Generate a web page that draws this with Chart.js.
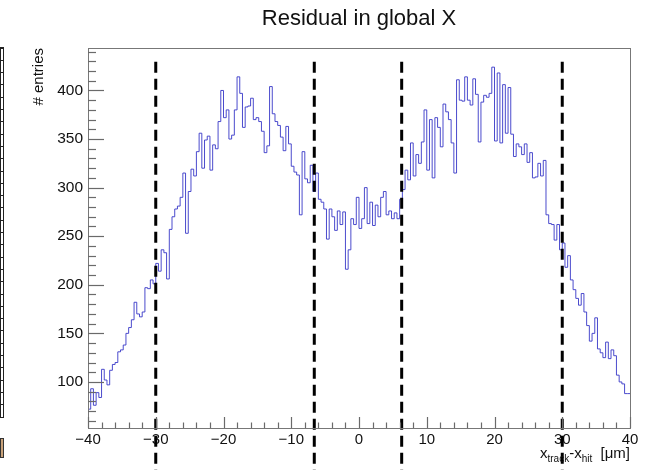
<!DOCTYPE html>
<html>
<head>
<meta charset="utf-8">
<title>Residual in global X</title>
<style>
  html, body { margin: 0; padding: 0; background: #fff; overflow: hidden; }
  canvas { display: block; }
</style>
<script src="https://cdn.jsdelivr.net/npm/chart.js@4.4.1/dist/chart.umd.min.js"></script>
</head>
<body>
<canvas id="c" width="654" height="470"></canvas>
<script>
// Histogram binning: 200 bins of 0.4 um between -40 and 40 um
const binLow = -40;
const binHigh = 40;
const binWidth = 0.4;

// Bin contents (# entries per bin), left to right
const entries = [
  86, 72, 93, 76, 89, 84, 113, 102, 97, 112,
  118, 120, 131, 133, 138, 150, 156, 164, 182, 170,
  167, 172, 197, 196, 205, 201, 222, 214, 236, 233,
  206, 257, 270, 278, 281, 290, 315, 253, 296, 319,
  312, 337, 356, 320, 349, 353, 318, 344, 340, 368,
  400, 372, 380, 350, 354, 380, 414, 397, 362, 383,
  384, 392, 370, 372, 368, 358, 336, 343, 404, 376,
  368, 364, 352, 338, 363, 345, 322, 316, 313, 272,
  337, 309, 305, 323, 296, 315, 288, 285, 278, 247,
  278, 270, 256, 276, 262, 275, 216, 236, 268, 262,
  290, 258, 268, 300, 263, 285, 261, 282, 270, 290,
  296, 272, 276, 268, 274, 268, 288, 298, 318, 308,
  346, 312, 334, 325, 347, 380, 318, 370, 310, 372,
  362, 342, 386, 378, 370, 346, 315, 411, 390, 389,
  414, 390, 385, 412, 396, 347, 388, 395, 393, 397,
  424, 348, 418, 346, 406, 356, 403, 355, 332, 345,
  342, 334, 345, 326, 336, 310, 311, 325, 312, 328,
  272, 263, 262, 246, 262, 236, 243, 218, 230, 205,
  195, 186, 179, 191, 172, 158, 142, 150, 166, 134,
  130, 125, 141, 124, 133, 127, 107, 100, 98, 88
];

// Vertical cut lines (um) and their vertical extent (entries)
const cutPositions = [-30, -6.6, 6.3, 30];
const cutBottom = 0;
const cutTop = 429.6;

// Axis ranges and labelled ticks
const yMin = 52.6;
const yMax = 443.7;
const xTickValues = [-40, -30, -20, -10, 0, 10, 20, 30, 40];
const yTickValues = [100, 150, 200, 250, 300, 350, 400];
const xMinorStep = 2;
const yMinorStep = 10;

const titleText = 'Residual in global X';
const yTitleText = '# entries';

const FONT = "'Liberation Sans', Arial, Helvetica, sans-serif";
const INK = '#111';
const AXIS_GREY = '#777';

// Step outline: one point per lower bin edge, closed at the upper edge
const histPoints = entries.map((v, i) => ({ x: binLow + i * binWidth, y: v }));
histPoints.push({ x: binHigh, y: entries[entries.length - 1] });

const cutDatasets = cutPositions.map(c => ({
  data: [{ x: c, y: cutTop }, { x: c, y: cutBottom }],
  borderColor: '#000',
  borderWidth: 3,
  borderDash: [11, 6],
  pointRadius: 0,
  fill: false,
  clip: false,
  order: 0
}));

const fmt = v => (v < 0 ? '\u2212' + Math.abs(v) : String(v));

// Frame, inward tick marks, titles and the strip of the neighbouring pad's palette
const decorations = {
  id: 'decorations',
  beforeDraw(chart) {
    const ctx = chart.ctx;
    ctx.save();
    // narrow palette strip on the far left
    ctx.strokeStyle = '#222';
    ctx.lineWidth = 1;
    ctx.strokeRect(0.5, 47.5, 3, 370);
    for (let yy = 47.5; yy < 417; yy += 12.3) {
      ctx.beginPath();
      ctx.moveTo(0, Math.round(yy) + 0.5);
      ctx.lineTo(4, Math.round(yy) + 0.5);
      ctx.stroke();
    }
    ctx.fillStyle = '#c9a27a';
    ctx.fillRect(0, 438, 4, 20);
    ctx.strokeStyle = '#333';
    ctx.strokeRect(0.5, 438.5, 3, 19);
    ctx.restore();
  },
  afterDraw(chart) {
    const ctx = chart.ctx;
    const a = chart.chartArea;
    const xs = chart.scales.x;
    const ys = chart.scales.y;
    ctx.save();

    // frame
    ctx.strokeStyle = AXIS_GREY;
    ctx.lineWidth = 1;
    ctx.strokeRect(Math.round(a.left) + 0.5, Math.round(a.top) + 0.5,
                   Math.round(a.right - a.left), Math.round(a.bottom - a.top));

    // x ticks (pointing up from the bottom axis)
    ctx.strokeStyle = '#6a6a6a';
    ctx.lineWidth = 1.2;
    for (let v = xs.min; v <= xs.max + 1e-9; v += xMinorStep) {
      const major = xTickValues.some(t => Math.abs(t - v) < 1e-6);
      const px = Math.round(xs.getPixelForValue(v)) + 0.5;
      ctx.beginPath();
      ctx.moveTo(px, a.bottom);
      ctx.lineTo(px, a.bottom - (major ? 11 : 5.5));
      ctx.stroke();
    }
    // y ticks (pointing right from the left axis)
    const yStart = Math.ceil(ys.min / yMinorStep) * yMinorStep;
    for (let v = yStart; v <= ys.max + 1e-9; v += yMinorStep) {
      const major = yTickValues.includes(v);
      const py = Math.round(ys.getPixelForValue(v)) + 0.5;
      ctx.beginPath();
      ctx.moveTo(a.left, py);
      ctx.lineTo(a.left + (major ? 16 : 8), py);
      ctx.stroke();
    }

    // title, centred over the frame
    ctx.fillStyle = INK;
    ctx.font = '22px ' + FONT;
    ctx.textAlign = 'center';
    ctx.textBaseline = 'alphabetic';
    ctx.fillText(titleText, (a.left + a.right) / 2, 25);

    // y-axis title, rotated, ending at the top of the frame
    ctx.save();
    ctx.translate(a.left - 45, a.top);
    ctx.rotate(-Math.PI / 2);
    ctx.font = '15px ' + FONT;
    ctx.textAlign = 'right';
    ctx.fillText(yTitleText, 0, 0);
    ctx.restore();

    // x-axis title with subscripts, right-aligned to the frame
    const parts = [
      { t: 'x', size: 15, dy: 0 },
      { t: 'track', size: 10, dy: 4 },
      { t: '-x', size: 15, dy: 0 },
      { t: 'hit', size: 10, dy: 4 },
      { t: '  [\u03bcm]', size: 15, dy: 0 }
    ];
    let total = 0;
    parts.forEach(p => { ctx.font = p.size + 'px ' + FONT; p.w = ctx.measureText(p.t).width; total += p.w; });
    let xPos = a.right - total;
    const base = 458;
    ctx.textAlign = 'left';
    parts.forEach(p => {
      ctx.font = p.size + 'px ' + FONT;
      ctx.fillText(p.t, xPos, base + p.dy);
      xPos += p.w;
    });
    ctx.restore();
  }
};

new Chart(document.getElementById('c'), {
  type: 'line',
  data: {
    datasets: [
      {
        data: histPoints,
        stepped: 'after',
        borderColor: 'rgba(55, 55, 200, 0.9)',
        borderWidth: 1,
        pointRadius: 0,
        fill: false,
        order: 1
      },
      ...cutDatasets
    ]
  },
  options: {
    responsive: false,
    animation: false,
    devicePixelRatio: 1,
    layout: { padding: { top: 48, right: 24, left: 0, bottom: 0 } },
    plugins: {
      legend: { display: false },
      title: { display: false },
      tooltip: { enabled: false }
    },
    scales: {
      x: {
        type: 'linear',
        min: binLow,
        max: binHigh,
        afterBuildTicks: s => { s.ticks = xTickValues.map(v => ({ value: v })); },
        afterFit: s => { s.height = 42; },
        grid: { display: false, drawTicks: false },
        border: { display: false },
        ticks: {
          autoSkip: false,
          maxRotation: 0,
          padding: 3,
          color: INK,
          font: { family: FONT, size: 15 },
          callback: v => fmt(v)
        }
      },
      y: {
        type: 'linear',
        min: yMin,
        max: yMax,
        afterBuildTicks: s => { s.ticks = yTickValues.map(v => ({ value: v })); },
        afterFit: s => { s.width = 88; },
        grid: { display: false, drawTicks: false },
        border: { display: false },
        ticks: {
          autoSkip: false,
          padding: 5,
          color: INK,
          font: { family: FONT, size: 15.5 },
          callback: v => String(v)
        }
      }
    }
  },
  plugins: [decorations]
});
</script>
</body>
</html>
